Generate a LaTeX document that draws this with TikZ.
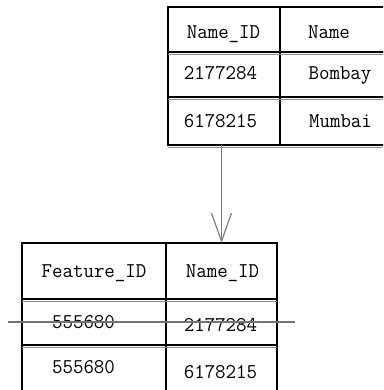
\documentclass[tikz,border=0pt]{standalone}
\usepackage{fontspec}
\newfontfamily\cellfont[FakeStretch=0.97]{Latin Modern Mono}
\usetikzlibrary{arrows.meta}
\begin{document}
\begin{tikzpicture}[x=1pt, y=-1pt,
  cell/.style={draw=black, line width=2pt, rectangle, inner sep=0pt, outer sep=0pt},
  txt/.style={anchor=base, inner sep=0pt, font=\cellfont\fontsize{21}{23}\selectfont},
  shade/.style={draw=black!45, line width=0.8pt},
  link/.style={draw=black!50, line width=1.2pt,
    -{Straight Barb[length=28pt, width=20pt, line width=1.2pt]}},
  strike/.style={draw=black!55, line width=1.4pt}]
\useasboundingbox (0,0) rectangle (383,390);
\clip (0,0) rectangle (383,390);
\fill[white] (0,0) rectangle (383,390);

% upper table: Name_ID / Name
\node[cell, minimum width=112pt, minimum height=45pt] (ta1) at (224,29.5) {};
\node[cell, minimum width=115pt, minimum height=45pt] (ta2) at (337.5,29.5) {};
\node[cell, minimum width=112pt, minimum height=45pt] (tb1) at (224,74.5) {};
\node[cell, minimum width=115pt, minimum height=45pt] (tb2) at (337.5,74.5) {};
\node[cell, minimum width=112pt, minimum height=48pt] (tc1) at (224,121) {};
\node[cell, minimum width=115pt, minimum height=48pt] (tc2) at (337.5,121) {};

% lower table: Feature_ID / Name_ID
\node[cell, minimum width=144pt, minimum height=56pt] (ba1) at (94,271) {};
\node[cell, minimum width=111pt, minimum height=56pt] (ba2) at (221.5,271) {};
\node[cell, minimum width=144pt, minimum height=46pt] (bb1) at (94,322) {};
\node[cell, minimum width=111pt, minimum height=46pt] (bb2) at (221.5,322) {};
\node[cell, minimum width=144pt, minimum height=55pt] (bc1) at (94,372.5) {};
\node[cell, minimum width=111pt, minimum height=55pt] (bc2) at (221.5,372.5) {};

% light rules under the row separators
\draw[shade] ([yshift=-2.5pt]tb1.north west) -- ([yshift=-2.5pt]tb2.north east);
\draw[shade] ([yshift=-2.5pt]tc1.north west) -- ([yshift=-2.5pt]tc2.north east);
\draw[shade] ([yshift=-2.5pt]tc1.south west) -- ([yshift=-2.5pt]tc2.south east);
\draw[shade] ([yshift=-2.5pt]bb1.north west) -- ([yshift=-2.5pt]bb2.north east);
\draw[shade] ([yshift=-2.5pt]bc1.north west) -- ([yshift=-2.5pt]bc2.north east);

% cell texts
\node[txt] (nameidA) at (223.5,39) {Name\_ID};
\node[txt] (nameA)   at (329,39)   {Name};
\node[txt] (idA)     at (220.5,80) {2177284};
\node[txt] (cityA)   at (340,80)   {Bombay};
\node[txt] (idB)     at (220.5,128){6178215};
\node[txt] (cityB)   at (340.5,128){Mumbai};

\node[txt] (featid)  at (94,277)   {Feature\_ID};
\node[txt] (nameidB) at (222.5,277){Name\_ID};
\node[txt] (featA)   at (83.5,328) {555680};
\node[txt] (refA)    at (220.5,331){2177284};
\node[txt] (featB)   at (83.5,373) {555680};
\node[txt] (refB)    at (220.5,378){6178215};

% struck-out row
\coordinate (strikeL) at (8,322);
\coordinate (strikeR) at (295,322);
\draw[strike] (strikeL) -- (strikeR);

% reference arrow
\draw[link] (ba2.north |- tc1.south) -- (ba2.north);
\end{tikzpicture}
\end{document}
